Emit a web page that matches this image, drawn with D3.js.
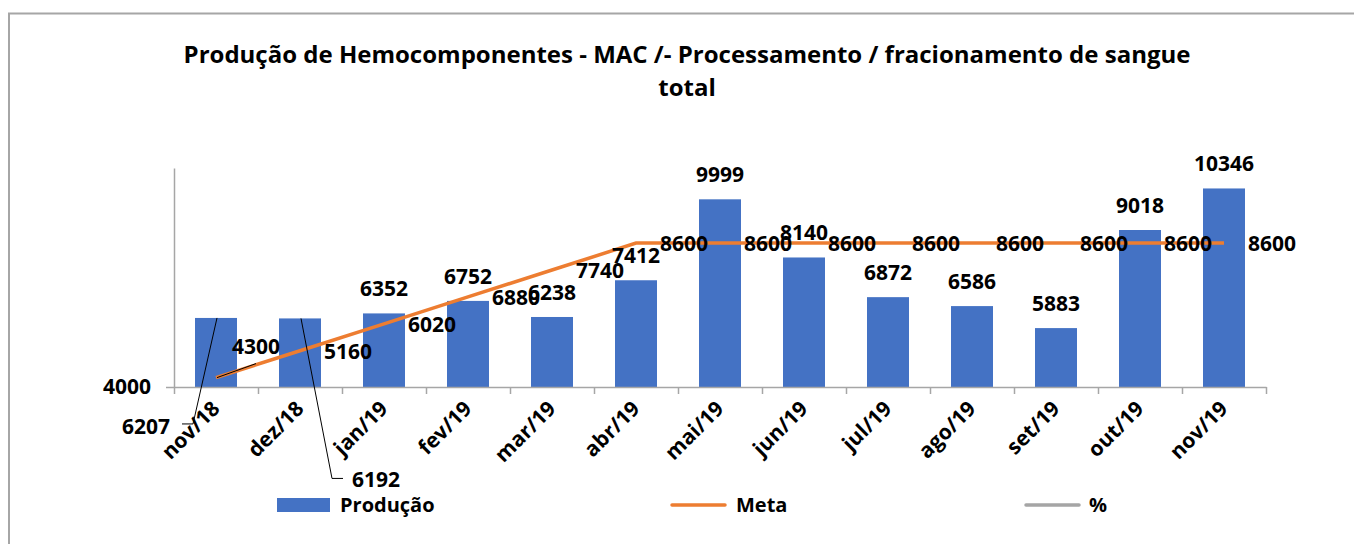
<!DOCTYPE html>
<html>
<head>
<meta charset="utf-8">
<script src="https://cdn.jsdelivr.net/npm/d3@7"></script>
<style>
  body { margin: 0; background: #fff; }
  svg text { font-family: "Open Sans", sans-serif; font-weight: bold; fill: #000; }
</style>
</head>
<body>
<div id="chart"></div>
<script>
// data
const categories = ["nov/18", "dez/18", "jan/19", "fev/19", "mar/19", "abr/19", "mai/19",
                    "jun/19", "jul/19", "ago/19", "set/19", "out/19", "nov/19"];
const producao = [6207, 6192, 6352, 6752, 6238, 7412, 9999, 8140, 6872, 6586, 5883, 9018, 10346];
const meta = [4300, 5160, 6020, 6880, 7740, 8600, 8600, 8600, 8600, 8600, 8600, 8600, 8600];
const yTicks = [4000];
const legendItems = ["Produção", "Meta", "%"];

const width = 1354, height = 544;
const margin = {left: 174, right: 88, top: 168, bottom: 157};

const svg = d3.select("#chart").append("svg")
    .attr("width", width)
    .attr("height", height);

// chart border (only top and left edges are visible)
svg.append("rect")
    .attr("x", 9).attr("y", 13.5)
    .attr("width", 1500).attr("height", 700)
    .attr("fill", "none")
    .attr("stroke", "#a6a6a6")
    .attr("stroke-width", 2);

// title
const title = svg.append("text")
    .attr("text-anchor", "middle")
    .style("font-size", "24px");
title.append("tspan").attr("x", 687).attr("y", 63)
    .text("Produção de Hemocomponentes - MAC /- Processamento / fracionamento de sangue");
title.append("tspan").attr("x", 687).attr("y", 96).text("total");

const plotW = width - margin.left - margin.right;
const plotH = height - margin.top - margin.bottom;

const g = svg.append("g").attr("transform", `translate(${margin.left}, ${margin.top})`);

let x = d3.scaleBand().domain(categories).range([0, plotW]);
let xEdge = d3.scaleLinear().domain([0, categories.length]).range([0, plotW]);
let y = d3.scaleLinear().domain([4000, 11000]).range([plotH, 0]);

const cx = d => x(d) + x.bandwidth() / 2;

// bars
g.selectAll("rect.bar").data(producao).enter()
    .append("rect")
    .attr("class", "bar")
    .attr("x", (d, i) => cx(categories[i]) - x.bandwidth() / 4)
    .attr("width", x.bandwidth() / 2)
    .attr("y", d => y(d))
    .attr("height", d => plotH - y(d))
    .attr("fill", "#4472c4");

// x axis: ticks between categories
const xAxis = g.append("g")
    .attr("transform", `translate(0, ${plotH})`)
    .call(d3.axisBottom(xEdge).tickValues(d3.range(categories.length + 1))
        .tickFormat("").tickSize(7).tickSizeOuter(0));
xAxis.selectAll("path, line").attr("stroke", "#a6a6a6").attr("stroke-width", 1.5);

// x labels, rotated
g.selectAll("text.xlab").data(categories).enter()
    .append("text")
    .attr("class", "xlab")
    .attr("text-anchor", "end")
    .attr("transform", d => `translate(${cx(d) + 5}, ${plotH + 23}) rotate(-45)`)
    .style("font-size", "21px")
    .text(d => d);

// y axis
const yAxis = g.append("g")
    .call(d3.axisLeft(y).tickValues(yTicks).tickFormat(d3.format("d"))
        .tickSize(8).tickSizeOuter(0).tickPadding(15));
yAxis.selectAll("path, line").attr("stroke", "#a6a6a6").attr("stroke-width", 1.5);
yAxis.selectAll("text").style("font-size", "21px").attr("fill", "#000")
    .style("font-family", "Open Sans").style("font-weight", "bold");

// meta line
g.append("path")
    .datum(meta)
    .attr("fill", "none")
    .attr("stroke", "#ed7d31")
    .attr("stroke-width", 3.5)
    .attr("d", d3.line().x((d, i) => cx(categories[i])).y(d => y(d)));

// leader lines for labels that were dragged away
const leader = d3.line();
const p0 = [cx(categories[0]), y(producao[0])];
const p1 = [cx(categories[1]), y(producao[1])];
const m0 = [cx(categories[0]), y(meta[0])];
g.append("path").attr("d", leader([[p0[0] - 34, p0[1] + 106], [p0[0] - 23, p0[1] + 106], [p0[0] + 1, p0[1]]]))
    .attr("fill", "none").attr("stroke", "#000").attr("stroke-width", 1);
g.append("path").attr("d", leader([[p1[0] + 1, p1[1]], [p1[0] + 32, p1[1] + 160], [p1[0] + 43, p1[1] + 160]]))
    .attr("fill", "none").attr("stroke", "#000").attr("stroke-width", 1);
g.append("path").attr("d", leader([[m0[0] + 1, m0[1]], [m0[0] + 40, m0[1] - 14]]))
    .attr("fill", "none").attr("stroke", "#000").attr("stroke-width", 1);

// bar labels
g.selectAll("text.blab").data(producao).enter()
    .append("text")
    .attr("class", "blab")
    .style("font-size", "21px")
    .attr("text-anchor", (d, i) => i == 0 ? "end" : (i == 1 ? "start" : "middle"))
    .attr("x", (d, i) => {
        let c = cx(categories[i]);
        if (i == 0) return c - 46;
        if (i == 1) return c + 52;
        return c;
    })
    .attr("y", (d, i) => {
        if (i == 0) return y(d) + 116;
        if (i == 1) return y(d) + 169;
        return y(d) - 17;
    })
    .text(d => d);

// meta labels, to the right of the points
g.selectAll("text.mlab").data(meta).enter()
    .append("text")
    .attr("class", "mlab")
    .style("font-size", "21px")
    .attr("x", (d, i) => cx(categories[i]) + (i == 0 ? 16 : 24))
    .attr("y", (d, i) => y(d) + (i == 0 ? -24 : 8))
    .text(d => d);

// legend
const legend = svg.append("g");
legend.append("rect").attr("x", 277).attr("y", 498).attr("width", 53).attr("height", 14)
    .attr("fill", "#4472c4");
legend.append("text").attr("x", 340).attr("y", 512).style("font-size", "20px").text(legendItems[0]);
legend.append("line").attr("x1", 672).attr("x2", 725).attr("y1", 505).attr("y2", 505)
    .attr("stroke", "#ed7d31").attr("stroke-width", 3.5).attr("stroke-linecap", "round");
legend.append("text").attr("x", 736).attr("y", 512).style("font-size", "20px").text(legendItems[1]);
legend.append("line").attr("x1", 1026).attr("x2", 1079).attr("y1", 505).attr("y2", 505)
    .attr("stroke", "#a5a5a5").attr("stroke-width", 3.5).attr("stroke-linecap", "round");
legend.append("text").attr("x", 1089).attr("y", 512).style("font-size", "20px").text(legendItems[2]);
</script>
</body>
</html>
